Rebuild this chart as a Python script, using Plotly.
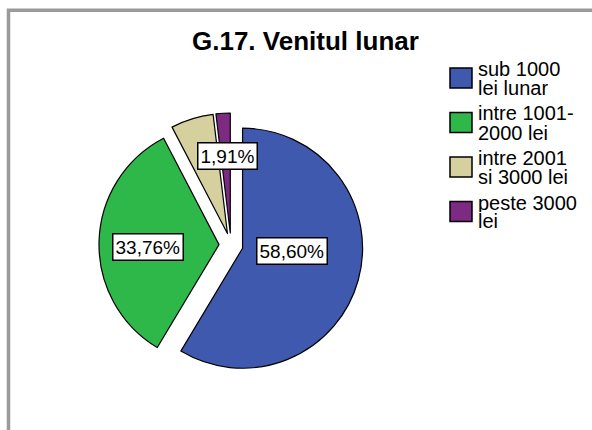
import plotly.graph_objects as go

# date
categorii = ["sub 1000<br>lei lunar", "intre 1001-<br>2000 lei",
             "intre 2001<br>si 3000 lei", "peste 3000<br>lei"]
procente = [58.60, 33.76, 5.73, 1.91]
etichete = ["58,60%", "33,76%", "", "1,91%"]
culori = ["#3e59ad", "#2fb84a", "#d5d09d", "#7d2a82"]

W, H = 592, 430
FONT = "Arial, Liberation Sans"


def px(x, y):
    # pixeli -> coordonate paper
    return x / W, 1 - y / H


# geometrie pie (pixeli)
cx, cy, r, pull = 231, 245, 120, 0.1
R = r * (1 + pull)
x0, y0 = px(cx - R, cy + R)
x1, y1 = px(cx + R, cy - R)

fig = go.Figure(go.Pie(
    labels=categorii,
    values=procente,
    sort=False,
    direction="clockwise",
    rotation=0,
    pull=[pull] * len(procente),
    marker=dict(colors=culori, line=dict(color="black", width=1.2)),
    textinfo="none",
    hoverinfo="label+percent",
    showlegend=False,
    domain=dict(x=[x0, x1], y=[y0, y1]),
))

# etichete procente (casete albe)
pozitii = [(292, 251), (148, 247), None, (227, 156)]
for txt, pos in zip(etichete, pozitii):
    if not txt:
        continue
    ax, ay = px(*pos)
    fig.add_annotation(x=ax, y=ay, xref="paper", yref="paper", text=txt,
                       xanchor="center", yanchor="middle", showarrow=False,
                       font=dict(family=FONT, size=19, color="black"),
                       bgcolor="white", bordercolor="black", borderwidth=1.5, borderpad=2)

# legenda manuala
for i, (lab, col) in enumerate(zip(categorii, culori)):
    yc = 78 + 44.5 * i
    sx0, sy0 = px(450, yc + 10)
    sx1, sy1 = px(472, yc - 10)
    fig.add_shape(type="rect", xref="paper", yref="paper", x0=sx0, y0=sy0, x1=sx1, y1=sy1,
                  fillcolor=col, line=dict(color="black", width=1.5))
    for j, linie in enumerate(lab.split("<br>")):
        tx, ty = px(476, yc - 9.5 + 19 * j)
        fig.add_annotation(x=tx, y=ty, xref="paper", yref="paper", text=linie,
                           xanchor="left", yanchor="middle", showarrow=False, height=19,
                           font=dict(family=FONT, size=20, color="black"))

# titlu
tx, ty = px(305, 41)
fig.add_annotation(x=tx, y=ty, xref="paper", yref="paper", text="<b>G.17. Venitul lunar</b>",
                   showarrow=False, xanchor="center", yanchor="middle",
                   font=dict(family=FONT, size=26, color="black"))

# chenar gri
fx0, fy1 = px(8.5, 10.3)
fig.add_shape(type="rect", xref="paper", yref="paper", x0=fx0, y0=-0.1, x1=1.1, y1=fy1,
              line=dict(color="#9a9a9a", width=3.5), fillcolor="rgba(0,0,0,0)")

fig.update_layout(
    width=W, height=H,
    margin=dict(l=0, r=0, t=0, b=0),
    paper_bgcolor="white",
    plot_bgcolor="white",
)

fig.write_html("out.html", config={"displayModeBar": False},
               post_script="document.body.style.margin='0';")
